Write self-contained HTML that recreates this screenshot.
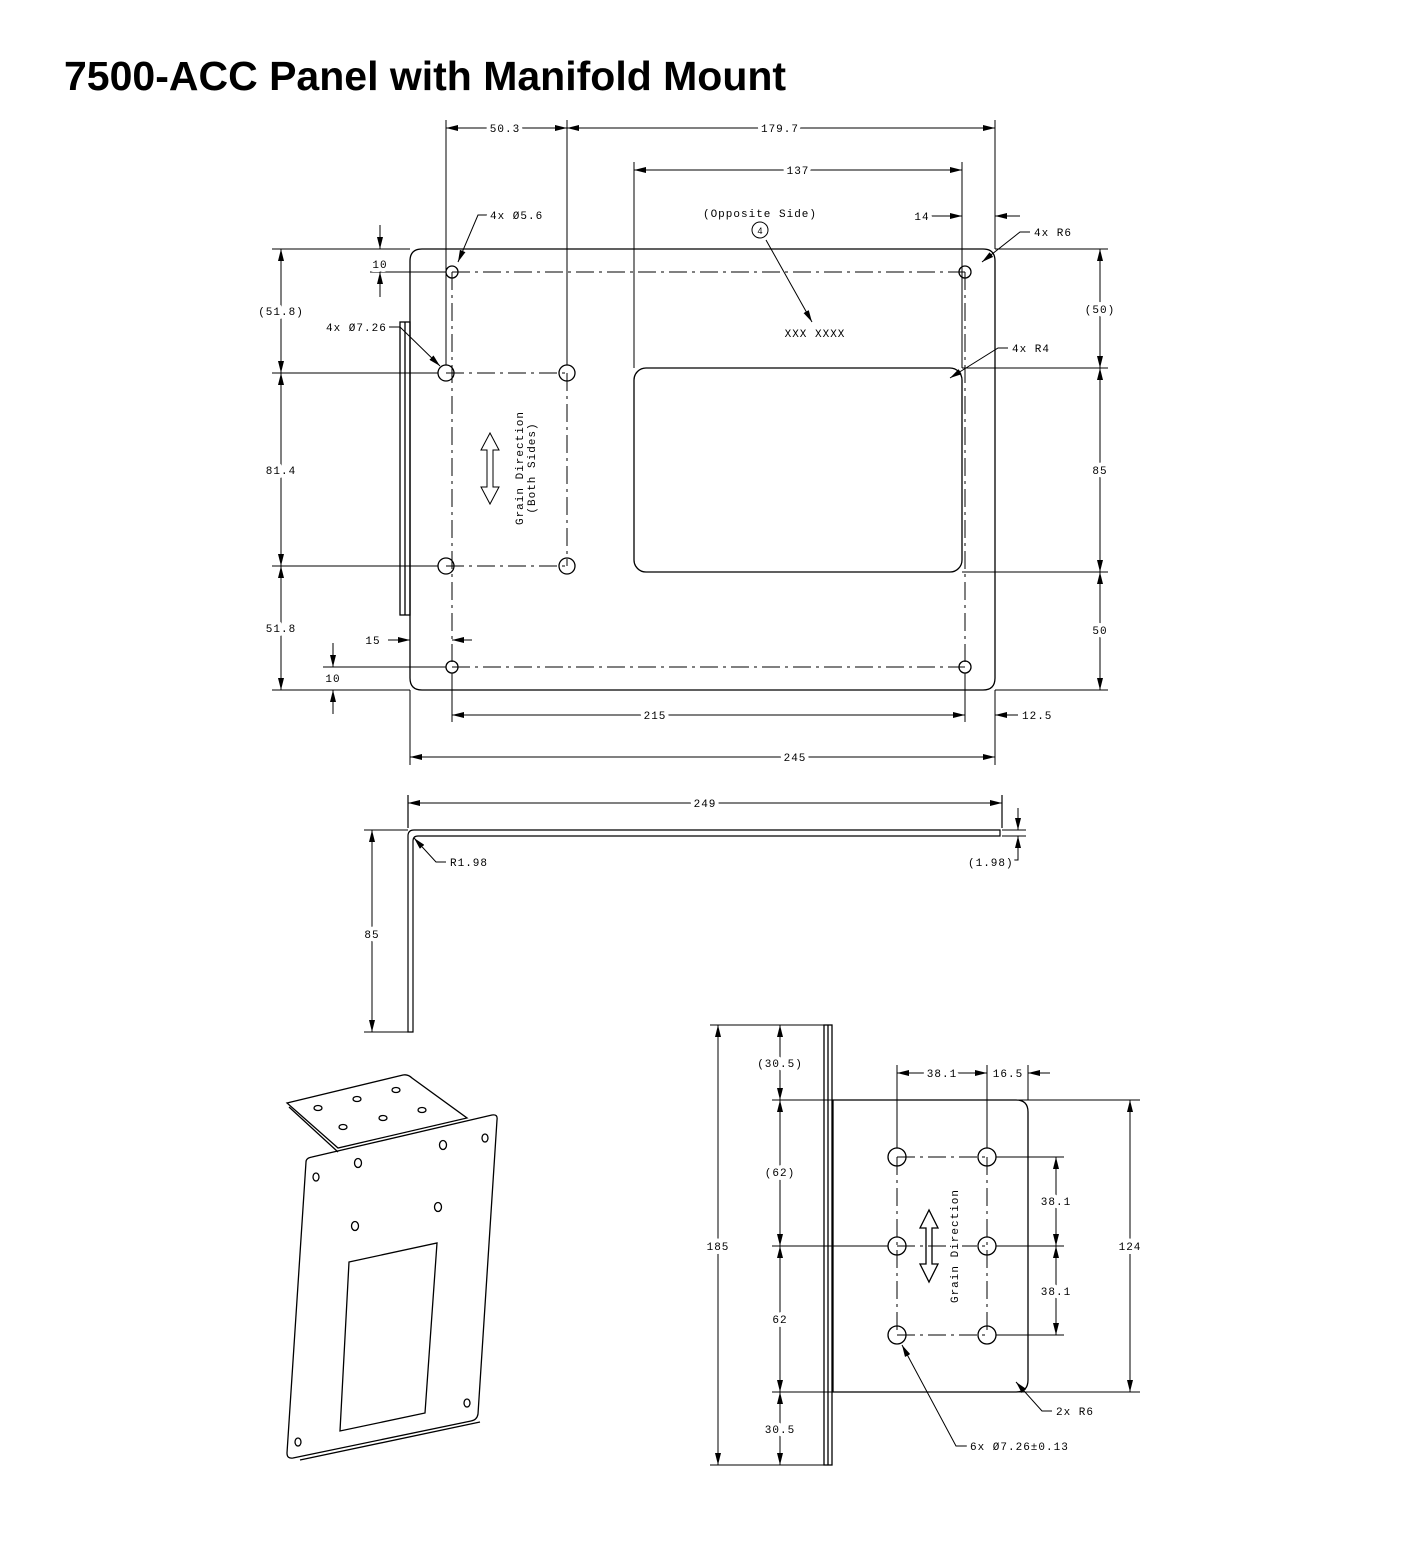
<!DOCTYPE html>
<html><head><meta charset="utf-8"><style>
html,body{margin:0;padding:0;background:#fff;}
svg{display:block}
.t{font-family:"Liberation Sans Narrow","Liberation Mono",monospace;font-size:11px;fill:#000;stroke:#fff;stroke-width:8px;stroke-linejoin:round;paint-order:stroke;letter-spacing:1px}
</style></head><body>
<svg width="1418" height="1560" viewBox="0 0 1418 1560" xmlns="http://www.w3.org/2000/svg">
<defs>
<marker id="a" viewBox="0 0 12 6" refX="12" refY="3" markerWidth="12" markerHeight="6" orient="auto-start-reverse" markerUnits="userSpaceOnUse"><path d="M0,0 L12,3 L0,6z" fill="#000"/></marker>
</defs>
<text x="64" y="90" font-family="Liberation Sans,sans-serif" font-weight="bold" font-size="41" fill="#000">7500-ACC Panel with Manifold Mount</text>

<g fill="none" stroke="#000" stroke-width="1.3">
<path d="M422,249 H983 Q995,249 995,261 V678 Q995,690 983,690 H422 Q410,690 410,678 V261 Q410,249 422,249z"/>
<rect x="400" y="322" width="10" height="293"/>
<line x1="405" y1="322" x2="405" y2="615"/>
<rect x="634" y="368" width="328" height="204" rx="12"/>
<circle cx="452" cy="272" r="6"/><circle cx="965" cy="272" r="6"/>
<circle cx="452" cy="667" r="6"/><circle cx="965" cy="667" r="6"/>
<circle cx="446" cy="373" r="8"/><circle cx="567" cy="373" r="8"/>
<circle cx="446" cy="566" r="8"/><circle cx="567" cy="566" r="8"/>
</g>
<g fill="none" stroke="#000" stroke-width="1" stroke-dasharray="18,5,3,5">
<line x1="452" y1="272" x2="965" y2="272"/><line x1="452" y1="667" x2="965" y2="667"/>
<line x1="452" y1="272" x2="452" y2="667"/><line x1="965" y1="272" x2="965" y2="667"/>
<line x1="446" y1="373" x2="567" y2="373"/><line x1="446" y1="566" x2="567" y2="566"/>
<line x1="567" y1="373" x2="567" y2="566"/>
</g>
<g stroke="#000" stroke-width="1">
<line x1="446" y1="120" x2="446" y2="365"/><line x1="567" y1="120" x2="567" y2="365"/>
<line x1="995" y1="120" x2="995" y2="249"/>
<line x1="634" y1="162" x2="634" y2="368"/><line x1="962" y1="162" x2="962" y2="368"/>
<line x1="272" y1="249" x2="410" y2="249"/><line x1="995" y1="249" x2="1108" y2="249"/>
<line x1="272" y1="373" x2="438" y2="373"/><line x1="962" y1="368" x2="1108" y2="368"/>
<line x1="272" y1="566" x2="438" y2="566"/><line x1="962" y1="572" x2="1108" y2="572"/>
<line x1="272" y1="690" x2="410" y2="690"/><line x1="995" y1="690" x2="1108" y2="690"/>
<line x1="370" y1="272" x2="446" y2="272"/><line x1="323" y1="667" x2="446" y2="667"/>
<line x1="452" y1="673" x2="452" y2="722"/><line x1="965" y1="673" x2="965" y2="722"/>
<line x1="410" y1="690" x2="410" y2="765"/><line x1="995" y1="690" x2="995" y2="765"/>
</g>
<g stroke="#000" stroke-width="1" fill="none">
<line x1="446" y1="128" x2="567" y2="128" marker-start="url(#a)" marker-end="url(#a)"/>
<line x1="567" y1="128" x2="995" y2="128" marker-start="url(#a)" marker-end="url(#a)"/>
<line x1="634" y1="170" x2="962" y2="170" marker-start="url(#a)" marker-end="url(#a)"/>
<line x1="930" y1="216" x2="962" y2="216" marker-end="url(#a)"/>
<line x1="1020" y1="216" x2="995" y2="216" marker-end="url(#a)"/>
<line x1="1100" y1="249" x2="1100" y2="368" marker-start="url(#a)" marker-end="url(#a)"/>
<line x1="1100" y1="368" x2="1100" y2="572" marker-start="url(#a)" marker-end="url(#a)"/>
<line x1="1100" y1="572" x2="1100" y2="690" marker-start="url(#a)" marker-end="url(#a)"/>
<line x1="281" y1="249" x2="281" y2="373" marker-start="url(#a)" marker-end="url(#a)"/>
<line x1="281" y1="373" x2="281" y2="566" marker-start="url(#a)" marker-end="url(#a)"/>
<line x1="281" y1="566" x2="281" y2="690" marker-start="url(#a)" marker-end="url(#a)"/>
<line x1="380" y1="225" x2="380" y2="249" marker-end="url(#a)"/>
<line x1="380" y1="297" x2="380" y2="272" marker-end="url(#a)"/>
<line x1="333" y1="643" x2="333" y2="667" marker-end="url(#a)"/>
<line x1="333" y1="714" x2="333" y2="690" marker-end="url(#a)"/>
<line x1="388" y1="640" x2="410" y2="640" marker-end="url(#a)"/>
<line x1="472" y1="640" x2="452" y2="640" marker-end="url(#a)"/>
<line x1="452" y1="715" x2="965" y2="715" marker-start="url(#a)" marker-end="url(#a)"/>
<line x1="1018" y1="715" x2="995" y2="715" marker-end="url(#a)"/>
<line x1="410" y1="757" x2="995" y2="757" marker-start="url(#a)" marker-end="url(#a)"/>
<polyline points="488,215 478,215 458,262" marker-end="url(#a)"/>
<polyline points="384,327 400,327 440,366" marker-end="url(#a)"/>
<polyline points="1030,232 1020,232 982,262" marker-end="url(#a)"/>
<polyline points="1008,348 998,348 950,378" marker-end="url(#a)"/>
<line x1="766" y1="240" x2="812" y2="322" marker-end="url(#a)"/>
<circle cx="760" cy="230" r="8"/>
<path d="M490,433 L481,450 H487 V487 H481 L490,504 L499,487 H493 V450 H499z"/>
</g>
<text class="t" x="780" y="132" text-anchor="middle">179.7</text>
<text class="t" x="798" y="174" text-anchor="middle">137</text>
<text class="t" x="922" y="220" text-anchor="middle">14</text>
<text class="t" x="490" y="219">4x Ø5.6</text>
<text class="t" x="505" y="132" text-anchor="middle">50.3</text>
<text class="t" x="760" y="217" text-anchor="middle">(Opposite Side)</text>
<text x="760" y="234" text-anchor="middle" font-family="Liberation Sans" font-size="9">4</text>
<text class="t" x="815" y="337" text-anchor="middle">XXX XXXX</text>
<text class="t" x="1034" y="236">4x R6</text>
<text class="t" x="1012" y="352">4x R4</text>
<text class="t" x="1100" y="313" text-anchor="middle">(50)</text>
<text class="t" x="1100" y="474" text-anchor="middle">85</text>
<text class="t" x="1100" y="634" text-anchor="middle">50</text>
<text class="t" x="281" y="315" text-anchor="middle">(51.8)</text>
<text class="t" x="281" y="474" text-anchor="middle">81.4</text>
<text class="t" x="281" y="632" text-anchor="middle">51.8</text>
<text class="t" x="380" y="268" text-anchor="middle">10</text>
<text class="t" x="333" y="682" text-anchor="middle">10</text>
<text class="t" x="373" y="644" text-anchor="middle">15</text>
<text class="t" x="326" y="331">4x Ø7.26</text>
<text class="t" x="655" y="719" text-anchor="middle">215</text>
<text class="t" x="1022" y="719">12.5</text>
<text class="t" x="795" y="761" text-anchor="middle">245</text>
<text class="t" x="523" y="468" text-anchor="middle" transform="rotate(-90 523 468)">Grain Direction</text>
<text class="t" x="535" y="468" text-anchor="middle" transform="rotate(-90 535 468)">(Both Sides)</text>

<g fill="none" stroke="#000" stroke-width="1.2">
<path d="M408,1032 V836 Q408,830 414,830 H1000 V836 H418 Q413,836 413,841 V1032z"/>
<line x1="408" y1="795" x2="408" y2="828"/><line x1="1002" y1="795" x2="1002" y2="828"/>
<line x1="408" y1="803" x2="1002" y2="803" marker-start="url(#a)" marker-end="url(#a)" stroke-width="1"/>
<line x1="364" y1="830" x2="408" y2="830" stroke-width="1"/><line x1="364" y1="1032" x2="408" y2="1032" stroke-width="1"/>
<line x1="372" y1="830" x2="372" y2="1032" marker-start="url(#a)" marker-end="url(#a)" stroke-width="1"/>
<line x1="1002" y1="830" x2="1026" y2="830" stroke-width="1"/><line x1="1002" y1="836" x2="1026" y2="836" stroke-width="1"/>
<line x1="1018" y1="808" x2="1018" y2="830" marker-end="url(#a)" stroke-width="1"/>
<polyline points="1010,860 1018,860 1018,836" marker-end="url(#a)" stroke-width="1"/>
<polyline points="446,862 436,862 414,838" marker-end="url(#a)" stroke-width="1"/>
</g>
<text class="t" x="705" y="807" text-anchor="middle">249</text>
<text class="t" x="372" y="938" text-anchor="middle">85</text>
<text class="t" x="450" y="866">R1.98</text>
<text class="t" x="968" y="866">(1.98)</text>

<g fill="none" stroke="#000" stroke-width="1.3">
<path d="M287,1103 L403,1075 Q408,1074 412,1078 L467,1118 L338,1148z"/>
<line x1="289" y1="1107" x2="338" y2="1152"/>
<path d="M312,1157 L492,1115 Q498,1114 497,1120 L478,1414 Q477,1420 471,1421 L293,1458 Q287,1459 287,1453 L306,1162 Q306,1158 312,1157z"/>
<line x1="300" y1="1460" x2="480" y2="1422"/>
<path d="M349,1262 L437,1243 L425,1413 L340,1431z"/>
<ellipse cx="316" cy="1177" rx="3" ry="4"/><ellipse cx="358" cy="1163" rx="3.5" ry="4.5"/>
<ellipse cx="443" cy="1145" rx="3.5" ry="4.5"/><ellipse cx="485" cy="1138" rx="3" ry="4"/>
<ellipse cx="355" cy="1226" rx="3.5" ry="4.5"/><ellipse cx="438" cy="1207" rx="3.5" ry="4.5"/>
<ellipse cx="467" cy="1403" rx="3" ry="4"/><ellipse cx="298" cy="1442" rx="3" ry="4"/>
<ellipse cx="318" cy="1108" rx="4" ry="2.5"/><ellipse cx="357" cy="1099" rx="4" ry="2.5"/>
<ellipse cx="396" cy="1090" rx="4" ry="2.5"/><ellipse cx="343" cy="1127" rx="4" ry="2.5"/>
<ellipse cx="383" cy="1118" rx="4" ry="2.5"/><ellipse cx="422" cy="1110" rx="4" ry="2.5"/>
</g>

<g fill="none" stroke="#000" stroke-width="1.3">
<rect x="824" y="1025" width="8" height="440"/>
<line x1="828" y1="1025" x2="828" y2="1465"/>
<path d="M833,1100 H1016 Q1028,1100 1028,1112 V1380 Q1028,1392 1016,1392 H833z"/>
<circle cx="897" cy="1157" r="9"/><circle cx="987" cy="1157" r="9"/>
<circle cx="897" cy="1246" r="9"/><circle cx="987" cy="1246" r="9"/>
<circle cx="897" cy="1335" r="9"/><circle cx="987" cy="1335" r="9"/>
<path d="M929,1210 L920,1228 H926 V1264 H920 L929,1282 L938,1264 H932 V1228 H938z"/>
</g>
<g fill="none" stroke="#000" stroke-width="1" stroke-dasharray="18,5,3,5">
<line x1="897" y1="1157" x2="987" y2="1157"/><line x1="897" y1="1246" x2="987" y2="1246"/>
<line x1="897" y1="1335" x2="987" y2="1335"/>
<line x1="897" y1="1157" x2="897" y2="1335"/><line x1="987" y1="1157" x2="987" y2="1335"/>
</g>
<g stroke="#000" stroke-width="1" fill="none">
<line x1="710" y1="1025" x2="824" y2="1025"/><line x1="710" y1="1465" x2="824" y2="1465"/>
<line x1="772" y1="1100" x2="1140" y2="1100"/><line x1="772" y1="1392" x2="1140" y2="1392"/>
<line x1="772" y1="1246" x2="888" y2="1246"/>
<line x1="996" y1="1157" x2="1064" y2="1157"/><line x1="996" y1="1246" x2="1064" y2="1246"/><line x1="996" y1="1335" x2="1064" y2="1335"/>
<line x1="897" y1="1065" x2="897" y2="1148"/><line x1="987" y1="1065" x2="987" y2="1148"/><line x1="1028" y1="1065" x2="1028" y2="1100"/>
<line x1="718" y1="1025" x2="718" y2="1465" marker-start="url(#a)" marker-end="url(#a)"/>
<line x1="780" y1="1025" x2="780" y2="1100" marker-start="url(#a)" marker-end="url(#a)"/>
<line x1="780" y1="1100" x2="780" y2="1246" marker-start="url(#a)" marker-end="url(#a)"/>
<line x1="780" y1="1246" x2="780" y2="1392" marker-start="url(#a)" marker-end="url(#a)"/>
<line x1="780" y1="1392" x2="780" y2="1465" marker-start="url(#a)" marker-end="url(#a)"/>
<line x1="1130" y1="1100" x2="1130" y2="1392" marker-start="url(#a)" marker-end="url(#a)"/>
<line x1="1056" y1="1157" x2="1056" y2="1246" marker-start="url(#a)" marker-end="url(#a)"/>
<line x1="1056" y1="1246" x2="1056" y2="1335" marker-start="url(#a)" marker-end="url(#a)"/>
<line x1="897" y1="1073" x2="987" y2="1073" marker-start="url(#a)" marker-end="url(#a)"/>
<line x1="1050" y1="1073" x2="1028" y2="1073" marker-end="url(#a)"/>
<polyline points="1052,1411 1042,1411 1016,1382" marker-end="url(#a)"/>
<polyline points="968,1446 956,1446 902,1345" marker-end="url(#a)"/>
</g>
<text class="t" x="718" y="1250" text-anchor="middle">185</text>
<text class="t" x="780" y="1067" text-anchor="middle">(30.5)</text>
<text class="t" x="780" y="1176" text-anchor="middle">(62)</text>
<text class="t" x="780" y="1323" text-anchor="middle">62</text>
<text class="t" x="780" y="1433" text-anchor="middle">30.5</text>
<text class="t" x="1130" y="1250" text-anchor="middle">124</text>
<text class="t" x="1056" y="1205" text-anchor="middle">38.1</text>
<text class="t" x="1056" y="1295" text-anchor="middle">38.1</text>
<text class="t" x="942" y="1077" text-anchor="middle">38.1</text>
<text class="t" x="1008" y="1077" text-anchor="middle">16.5</text>
<text class="t" x="1056" y="1415">2x R6</text>
<text class="t" x="970" y="1450">6x Ø7.26±0.13</text>
<text class="t" x="958" y="1246" text-anchor="middle" transform="rotate(-90 958 1246)">Grain Direction</text>
</svg>
</body></html>
